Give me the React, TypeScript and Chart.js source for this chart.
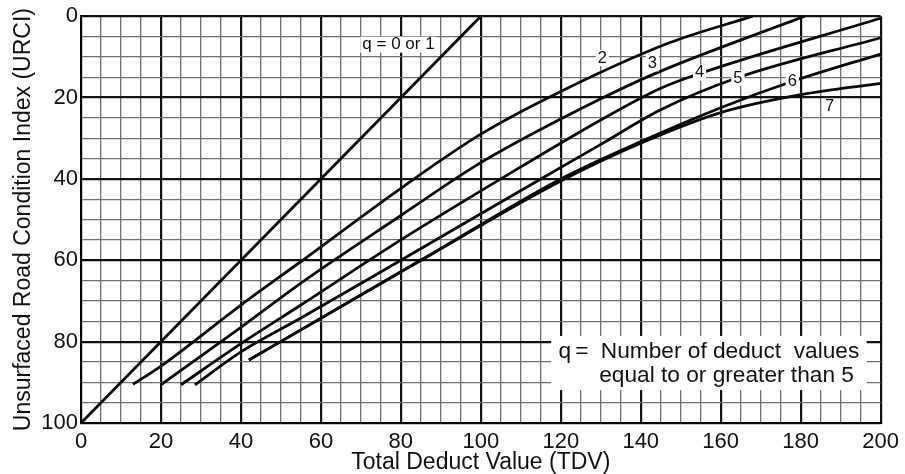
import React, { useEffect, useRef } from "react";
import { Chart, registerables } from "chart.js";

Chart.register(...registerables);

// ---- data ----
const xTickLabels = [0, 20, 40, 60, 80, 100, 120, 140, 160, 180, 200];
const yTickLabels = [0, 20, 40, 60, 80, 100];

const q01Tdv = [0, 100];
const q01Urci = [100, 0];

const q2Tdv = [13, 20, 40, 55, 80, 100, 120, 147, 168];
const q2Urci = [90.5, 86, 71, 60.3, 42.3, 29, 18.5, 6.6, 0];

const q3Tdv = [20, 40, 55, 80, 100, 130, 145, 181];
const q3Urci = [90.6, 76.5, 65.6, 49, 36, 20.3, 13.5, 0];

const q4Tdv = [25, 40, 55, 80, 105, 130, 145, 155, 200];
const q4Urci = [90.6, 80.5, 71, 55, 40, 25.5, 17.7, 14, 0.5];

const q5Tdv = [28.5, 40, 55, 80, 115, 130, 145, 164, 200];
const q5Urci = [90.6, 82.5, 74.2, 60, 40, 31.5, 23, 15.2, 5.3];

const q6Tdv = [42, 55, 85, 120, 141, 160, 178, 200];
const q6Urci = [84.5, 77.1, 60, 40, 30.4, 22.5, 16, 9.3];

const q7Tdv = [42, 55, 85, 120, 141, 160, 180, 200];
const q7Urci = [84.5, 77.1, 60, 40.5, 30.8, 23.7, 19.3, 16.5];

const seriesNames = ["q = 0 or 1", "2", "3", "4", "5", "6", "7"];
const noteQ = "q";
const noteEq = "=";
const noteLine1 = "Number of deduct  values";
const noteLine2 = "equal to or greater than 5";
const xTitle = "Total Deduct Value (TDV)";
const yTitle = "Unsurfaced Road Condition Index (URCI)";

const FONT = '"Liberation Sans", Arial, Helvetica, sans-serif';

function pts(xs: number[], ys: number[]) {
  return xs.map((x, i) => ({ x, y: ys[i] }));
}

// label anchor positions (data space) for the curve labels
const labelPos: [number, number][] = [
  [79.4, 7.0],
  [130.4, 10.3],
  [142.9, 11.6],
  [154.7, 13.9],
  [164.3, 15.2],
  [177.9, 16.0],
  [187.2, 22.3],
];

const annotatePlugin = {
  id: "annotate",
  beforeDatasetsDraw(chart: any) {
    const { ctx, scales } = chart;
    const sx = scales.x;
    const sy = scales.y;
    // white note box
    const x0 = sx.getPixelForValue(117.6);
    const x1 = sx.getPixelForValue(196.5);
    const y0 = sy.getPixelForValue(78.6);
    const y1 = sy.getPixelForValue(91.9);
    ctx.save();
    ctx.fillStyle = "#fff";
    ctx.fillRect(x0, y0, x1 - x0, y1 - y0);
    ctx.fillStyle = "#111";
    ctx.font = `22.7px ${FONT}`;
    ctx.textBaseline = "alphabetic";
    const b1 = sy.getPixelForValue(84.1);
    const b2 = sy.getPixelForValue(89.8);
    ctx.textAlign = "left";
    ctx.fillText(noteQ, sx.getPixelForValue(119.4), b1);
    ctx.textAlign = "center";
    ctx.fillText(noteEq, sx.getPixelForValue(125.3), b1);
    ctx.textAlign = "left";
    ctx.fillText(noteLine1, sx.getPixelForValue(130.0), b1);
    ctx.fillText(noteLine2, sx.getPixelForValue(129.6), b2);
    ctx.restore();
  },
  afterDatasetsDraw(chart: any) {
    const { ctx, scales } = chart;
    const sx = scales.x;
    const sy = scales.y;
    ctx.save();
    ctx.textAlign = "center";
    ctx.textBaseline = "middle";
    seriesNames.forEach((name, i) => {
      ctx.font = `${i === 0 ? 17 : 16.5}px ${FONT}`;
      const [vx, vy] = labelPos[i];
      const px = sx.getPixelForValue(vx);
      const py = sy.getPixelForValue(vy);
      const w = ctx.measureText(name).width + 4;
      ctx.fillStyle = "#fff";
      ctx.fillRect(px - w / 2, py - 8, w, 16);
      ctx.fillStyle = "#111";
      ctx.fillText(name, px, py);
    });
    ctx.restore();
  },
};

export default function App() {
  const ref = useRef<HTMLCanvasElement | null>(null);

  useEffect(() => {
    if (!ref.current) return;
    const line = (data: { x: number; y: number }[]) => ({
      data,
      showLine: true,
      borderColor: "#0a0a0a",
      borderWidth: 2.8,
      pointRadius: 0,
      cubicInterpolationMode: "monotone" as const,
      fill: false,
    });
    const isMajor = (v: number) => Math.abs(v % 20) < 1e-6;
    const chart = new Chart(ref.current, {
      type: "scatter",
      data: {
        datasets: [
          { label: seriesNames[0], ...line(pts(q01Tdv, q01Urci)) },
          { label: seriesNames[1], ...line(pts(q2Tdv, q2Urci)) },
          { label: seriesNames[2], ...line(pts(q3Tdv, q3Urci)) },
          { label: seriesNames[3], ...line(pts(q4Tdv, q4Urci)) },
          { label: seriesNames[4], ...line(pts(q5Tdv, q5Urci)) },
          { label: seriesNames[5], ...line(pts(q6Tdv, q6Urci)) },
          { label: seriesNames[6], ...line(pts(q7Tdv, q7Urci)) },
        ],
      },
      options: {
        responsive: false,
        devicePixelRatio: 1,
        animation: false,
        layout: { padding: { top: 16, right: 23, left: 0, bottom: 0 } },
        plugins: { legend: { display: false }, tooltip: { enabled: false } },
        scales: {
          x: {
            type: "linear",
            min: xTickLabels[0],
            max: xTickLabels[xTickLabels.length - 1],
            afterFit: (s: any) => {
              s.height = 51;
            },
            border: { display: true, color: "#000", width: 2 },
            grid: {
              drawTicks: false,
              color: (c: any) => (isMajor(c.tick.value) ? "#111" : "#707070"),
              lineWidth: (c: any) => (isMajor(c.tick.value) ? 2.2 : 1.3),
            },
            ticks: {
              stepSize: 5,
              autoSkip: false,
              maxRotation: 0,
              padding: 6,
              color: "#111",
              font: { family: FONT, size: 22 },
              callback: (v: any) => (xTickLabels.includes(Number(v)) ? String(v) : ""),
            },
            title: {
              display: true,
              text: xTitle,
              color: "#111",
              font: { family: FONT, size: 23, lineHeight: 1 },
              padding: { top: 0, bottom: 0 },
            },
          },
          y: {
            type: "linear",
            reverse: true,
            min: yTickLabels[0],
            max: yTickLabels[yTickLabels.length - 1],
            afterFit: (s: any) => {
              s.width = 81;
            },
            border: { display: true, color: "#000", width: 2 },
            grid: {
              drawTicks: false,
              color: (c: any) => (isMajor(c.tick.value) ? "#111" : "#707070"),
              lineWidth: (c: any) => (isMajor(c.tick.value) ? 2.2 : 1.3),
            },
            ticks: {
              stepSize: 5,
              autoSkip: false,
              padding: 3,
              color: "#111",
              font: { family: FONT, size: 22 },
              callback: (v: any) => (yTickLabels.includes(Number(v)) ? String(v) : ""),
            },
            title: {
              display: true,
              text: yTitle,
              color: "#111",
              font: { family: FONT, size: 23, lineHeight: 1 },
              padding: { top: 12, bottom: 0 },
            },
          },
        },
      },
      plugins: [annotatePlugin],
    });
    return () => chart.destroy();
  }, []);

  return (
    <div style={{ position: "fixed", left: 0, top: 0, width: 905, height: 474, background: "#fff" }}>
      <canvas ref={ref} width={905} height={474} style={{ display: "block" }} />
    </div>
  );
}
